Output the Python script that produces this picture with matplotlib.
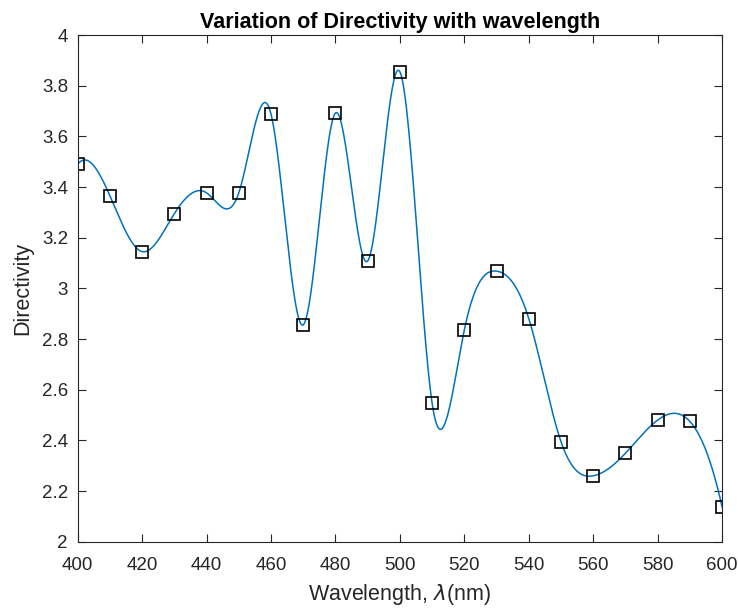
import numpy as np
import matplotlib
matplotlib.use("Agg")
import matplotlib.pyplot as plt
from matplotlib.ticker import FormatStrFormatter

wavelength = np.array([400, 410, 420, 430, 440, 450, 460, 470, 480, 490,
                       500, 510, 520, 530, 540, 550, 560, 570, 580, 590, 600])
directivity = np.array([3.49, 3.365, 3.145, 3.295, 3.377, 3.377, 3.688, 2.856, 3.692, 3.108,
                        3.855, 2.547, 2.836, 3.068, 2.881, 2.395, 2.26, 2.349, 2.48, 2.475, 2.138])


def spline_curve(x, y, xs):
    # cubic spline with not-a-knot ends (what MATLAB's spline() does)
    n = len(x)
    h = np.diff(x).astype(float)
    A = np.zeros((n, n))
    b = np.zeros(n)
    A[0, 0], A[0, 1], A[0, 2] = h[1], -(h[0] + h[1]), h[0]
    A[-1, -3], A[-1, -2], A[-1, -1] = h[-1], -(h[-2] + h[-1]), h[-2]
    for i in range(1, n - 1):
        A[i, i - 1] = h[i - 1]
        A[i, i] = 2 * (h[i - 1] + h[i])
        A[i, i + 1] = h[i]
        b[i] = 6 * ((y[i + 1] - y[i]) / h[i] - (y[i] - y[i - 1]) / h[i - 1])
    M = np.linalg.solve(A, b)
    k = np.clip(np.searchsorted(x, xs) - 1, 0, n - 2)
    hk = h[k]
    a = x[k + 1] - xs
    c = xs - x[k]
    return (M[k] * a**3 / (6 * hk) + M[k + 1] * c**3 / (6 * hk)
            + (y[k] / hk - M[k] * hk / 6) * a + (y[k + 1] / hk - M[k + 1] * hk / 6) * c)


plt.rcParams['font.family'] = 'Liberation Sans'
gray = '#262626'

fig = plt.figure(figsize=(7.38, 6.09), dpi=100)
ax = fig.add_axes([0.1053, 0.1105, 0.8731, 0.832])

xs = np.linspace(400, 600, 1000)
ax.plot(xs, spline_curve(wavelength, directivity, xs), color='#0072BD', lw=1.1)
ax.plot(wavelength, directivity, 's', mfc='none', mec='black', ms=9, mew=1.2)

ax.set_xlim(400, 600)
ax.set_ylim(2, 4)
ax.set_xticks(np.arange(400, 601, 20))
ax.set_yticks(np.arange(2, 4.01, 0.2))
ax.yaxis.set_major_formatter(FormatStrFormatter('%g'))
ax.tick_params(direction='in', top=True, right=True, labelsize=13.5, colors=gray, length=6, width=0.8)
ax.tick_params(axis='x', pad=11)
ax.tick_params(axis='y', pad=7)
for s in ax.spines.values():
    s.set_color(gray)
    s.set_linewidth(0.8)

ax.set_title('Variation of Directivity with wavelength', fontsize=15.5, fontweight='bold', pad=5)
ax.set_xlabel(r'Wavelength, $\lambda$(nm)', fontsize=15.5, color=gray, labelpad=6)
ax.set_ylabel('Directivity', fontsize=15.5, color=gray, labelpad=6)

fig.savefig('out.png', dpi=100)
